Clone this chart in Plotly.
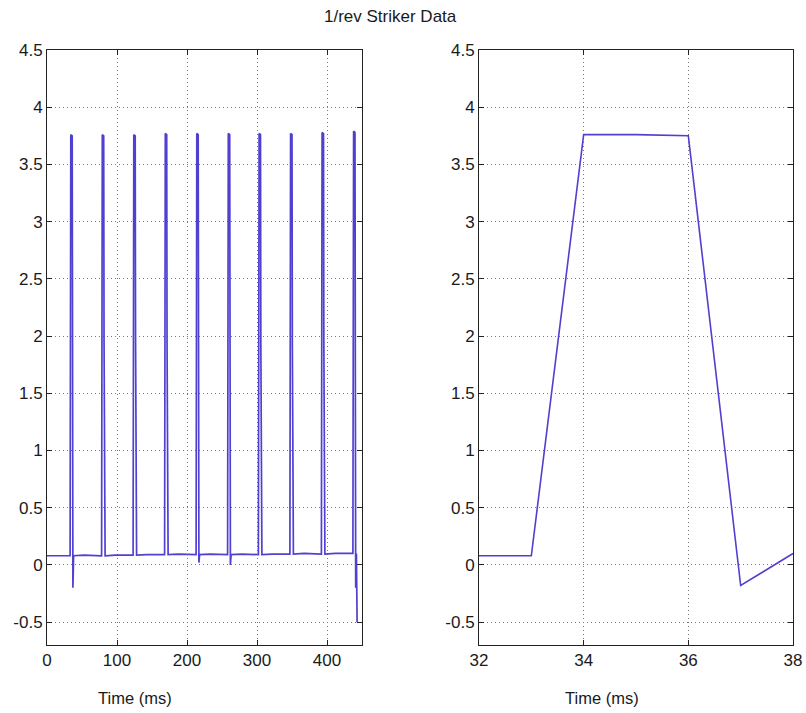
import plotly.graph_objects as go

# ---- overview trace (0-450 ms): one pulse per revolution ----
spike_onset = [33, 78, 123, 168, 213, 258, 302, 347, 392, 437]       # ms
spike_peak = [3.76, 3.76, 3.76, 3.77, 3.77, 3.77, 3.77, 3.77, 3.78, 3.79]
spike_shelf = [1.90, 1.95, 2.00, 1.92, 1.92, 1.92, 1.92, 1.92, 1.92, 1.60]
spike_after = [-0.20, 0.12, 0.10, 0.10, 0.02, 0.00, 0.10, 0.10, 0.10, -0.20]
baseline = [0.08, 0.08, 0.085, 0.09, 0.09, 0.09, 0.09, 0.095, 0.095, 0.10]
trace_end_t = [442, 443]
trace_end_v = [0.10, -0.50]

# ---- zoomed trace (32-38 ms): first pulse ----
zoom_t = [32, 33, 34, 35, 36, 37, 38]
zoom_v = [0.08, 0.08, 3.76, 3.76, 3.75, -0.18, 0.10]

# assemble the overview polyline from the per-pulse readings
over_t, over_v = [0.0], [baseline[0]]
for s, pk, sh, af, b in zip(spike_onset, spike_peak, spike_shelf, spike_after, baseline):
    over_t += [s, s + 1, s + 3, s + 3.5, s + 4, s + 5]
    over_v += [b, pk, pk - 0.01, sh, af, b]
    over_t.append(s + 20)
    over_v.append(b + 0.005)
# last pulse runs off the end of the record
over_t = over_t[:-2] + trace_end_t
over_v = over_v[:-2] + trace_end_v

LINE = "#5040d0"
FONT = "Liberation Sans, Arial, sans-serif"
TXT = "#1a1a1a"

fig = go.Figure()
fig.add_trace(go.Scatter(x=over_t, y=over_v, mode="lines",
                         line=dict(color=LINE, width=1.7),
                         xaxis="x", yaxis="y", showlegend=False))
fig.add_trace(go.Scatter(x=zoom_t, y=zoom_v, mode="lines",
                         line=dict(color=LINE, width=1.6),
                         xaxis="x2", yaxis="y2", showlegend=False))

W, H = 806, 713
ytick = [-0.5, 0, 0.5, 1, 1.5, 2, 2.5, 3, 3.5, 4, 4.5]
ytext = ["-0.5", "0", "0.5", "1", "1.5", "2", "2.5", "3", "3.5", "4", "4.5"]

common = dict(showline=True, linecolor="#222", linewidth=1, mirror="ticks",
              ticks="inside", ticklen=5, tickcolor="#222", automargin=False,
              showgrid=True, gridcolor="#777", griddash="1px,3px", gridwidth=1,
              zeroline=False, tickfont=dict(family=FONT, size=17, color=TXT))

ydom = [1 - 645 / H, 1 - 50 / H]
fig.update_layout(
    width=W, height=H,
    margin=dict(l=0, r=0, t=0, b=0, pad=0),
    paper_bgcolor="white", plot_bgcolor="white",
    xaxis=dict(domain=[47 / W, 362 / W], range=[0, 450],
               tickvals=[0, 100, 200, 300, 400], anchor="y", **common),
    yaxis=dict(domain=ydom, range=[-0.7, 4.5], tickvals=ytick, ticktext=ytext,
               anchor="x", **common),
    xaxis2=dict(domain=[479 / W, 793 / W], range=[32, 38],
                tickvals=[32, 34, 36, 38], anchor="y2", **common),
    yaxis2=dict(domain=ydom, range=[-0.7, 4.5], tickvals=ytick, ticktext=ytext,
                anchor="x2", **common),
    annotations=[
        dict(text="1/rev Striker Data", x=390 / W, y=1 - 16 / H, xref="paper", yref="paper",
             xanchor="center", yanchor="middle",
             showarrow=False, font=dict(family=FONT, size=17, color=TXT)),
        dict(text="Time (ms)", x=135 / W, y=1 - 698 / H, xref="paper", yref="paper",
             xanchor="center", yanchor="middle",
             showarrow=False, font=dict(family=FONT, size=16.5, color=TXT)),
        dict(text="Time (ms)", x=602 / W, y=1 - 698 / H, xref="paper", yref="paper",
             xanchor="center", yanchor="middle",
             showarrow=False, font=dict(family=FONT, size=16.5, color=TXT)),
    ],
)

fig.write_html("out.html")
